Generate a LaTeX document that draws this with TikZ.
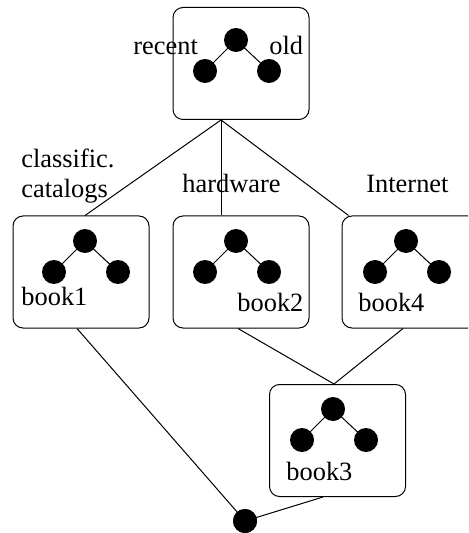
\documentclass[tikz,border=0pt]{standalone}
\usepackage{fontspec}
\setmainfont{Liberation Serif}
\usetikzlibrary{calc}
\begin{document}
\begin{tikzpicture}[x=0.5pt,y=-0.5pt,
  font=\fontsize{13.2}{15}\selectfont,
  box/.style={draw,line width=0.5pt,rounded corners=5pt,minimum width=68pt,minimum height=56pt,inner sep=0pt},
  dot/.style={circle,fill=black,inner sep=0pt,minimum size=12pt},
  edge/.style={line width=0.5pt},
  lbl/.style={anchor=base west,inner sep=0pt},
  tree/.pic={
    \node[dot] (-r) at (0,0) {};
    \node[dot] (-l) at (-31,31) {};
    \node[dot] (-rr) at (33,31) {};
    \draw[edge] (-r.center) -- (-l.center) (-r.center) -- (-rr.center);
  }]
\useasboundingbox (0,0) rectangle (468,533);
\begin{scope}
\clip (0,0) rectangle (468,533);

% boxes
\node[box] (top) at (241,63.5) {};
\node[box] (b1) at (81,272) {};
\node[box] (b2) at (241,272) {};
\node[box] (b4) at (410,272) {};
\node[box] (b3) at (337.5,440.5) {};

% small trees inside the boxes
\pic (tt) at (236,40) {tree};
\pic (t1) at (85,241) {tree};
\pic (t2) at (236,241) {tree};
\pic (t4) at (406,241) {tree};
\pic (t3) at (333,409) {tree};

% bottom join point
\node[dot] (bot) at (245,521) {};

% connectors
\coordinate (apex) at ($(top.south)+(-20,0)$);
\draw[edge] (apex) -- ($(b1.north)+(4,0)$);
\draw[edge] (apex) -- ($(b2.north)+(-20,0)$);
\draw[edge] (apex) -- ($(b4.north west)+(7,0)$);
\draw[edge] ($(b2.south)+(-3,0)$) -- ($(b3.north)+(-3.5,0)$);
\draw[edge] ($(b4.south)+(-7,0)$) -- ($(b3.north)+(-3.5,0)$);
\draw[edge] ($(b1.south)+(-4,0)$) -- (bot.center);
\draw[edge] ($(b3.south)+(-14.5,0)$) -- (bot.center);
\node[dot] at (bot) {};

% labels
\node[lbl] (lrecent) at (133,55) {recent};
\node[lbl] (lold) at (269,55) {old};
\node[lbl] (lclass) at (21,168) {classific.};
\node[lbl] (lcat) at (21,198) {catalogs};
\node[lbl] (lhw) at (182,193) {hardware};
\node[lbl] (lnet) at (366,193) {Internet};
\node[lbl] (lb1) at (21,305) {book1};
\node[lbl] (lb2) at (237,311) {book2};
\node[lbl] (lb4) at (358,311) {book4};
\node[lbl] (lb3) at (286,480) {book3};
\end{scope}
\end{tikzpicture}
\end{document}
